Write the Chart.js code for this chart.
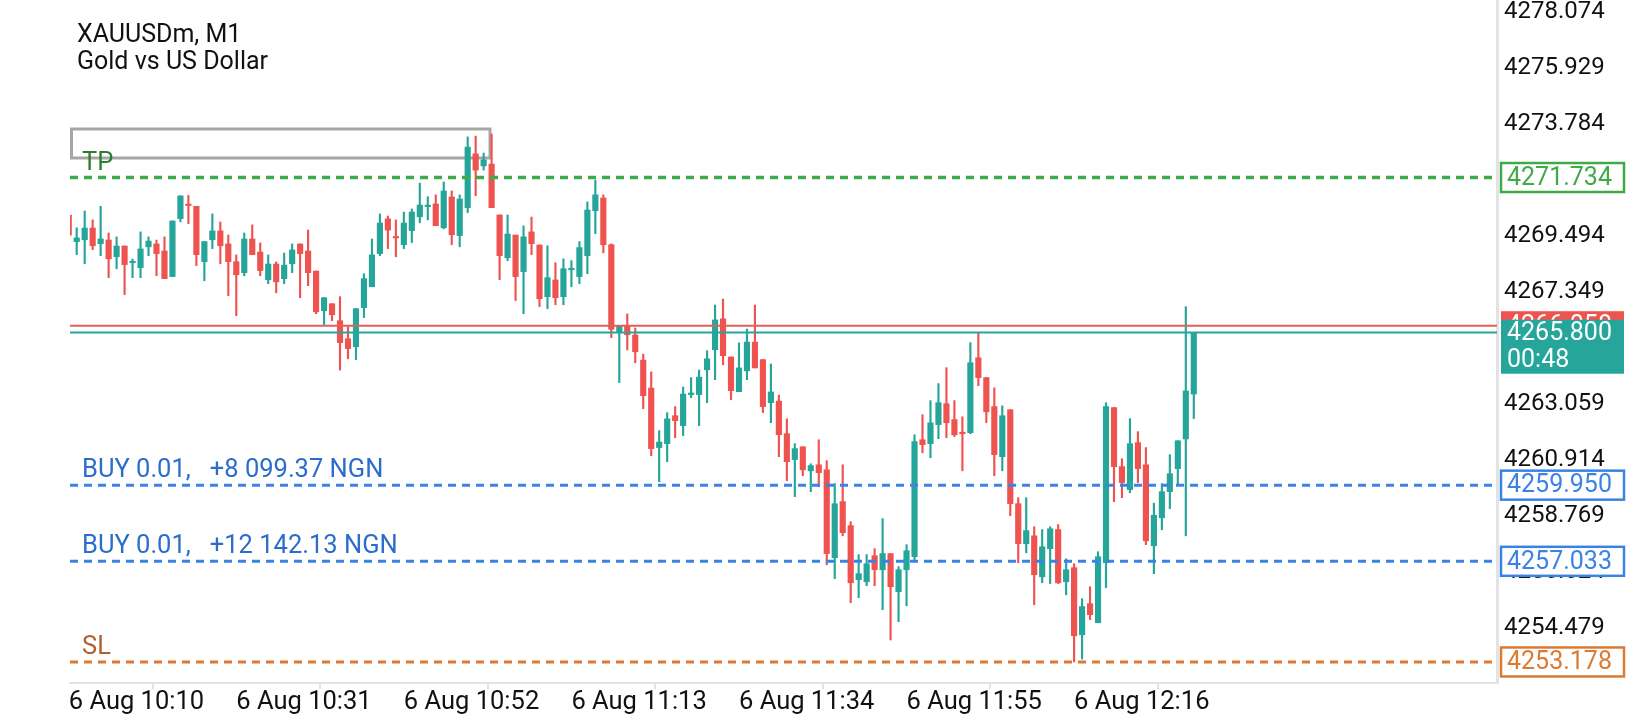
<!doctype html>
<html lang="en">
<head>
<meta charset="utf-8">
<title>XAUUSDm, M1</title>
<script src="https://cdn.jsdelivr.net/npm/chart.js"></script>
<style>
  html, body { margin: 0; padding: 0; background: #fff; }
  #wrap { position: relative; width: 1640px; height: 720px; }
</style>
</head>
<body>
<div id="wrap"><canvas id="chart"></canvas></div>
<script>
  //--------------------------------- data ---------------------------------
  const symbolTitle = 'XAUUSDm, M1'
  const symbolName = 'Gold vs US Dollar'

  // one candle per minute, index 0 = 6 Aug 10:10
  const timeTicks = [0, 21, 42, 63, 84, 105, 126]
  const timeLabels = ['6 Aug 10:10', '6 Aug 10:31', '6 Aug 10:52', '6 Aug 11:13', '6 Aug 11:34', '6 Aug 11:55', '6 Aug 12:16']

  const priceTicks = [4278.074, 4275.929, 4273.784, 4271.639, 4269.494, 4267.349, 4265.204,
    4263.059, 4260.914, 4258.769, 4256.624, 4254.479]

  const opens = [
    4270.30, 4269.28, 4269.35, 4269.80, 4269.20, 4269.34, 4268.70, 4269.11, 4268.47, 4268.28,
    4269.08, 4269.19, 4268.92, 4267.94, 4270.16, 4270.71, 4270.63, 4268.51, 4269.35, 4269.69,
    4269.19, 4268.51, 4268.09, 4269.38, 4268.88, 4267.82, 4268.42, 4267.86, 4268.43, 4269.19,
    4268.92, 4268.15, 4266.63, 4266.90, 4266.25, 4265.56, 4265.25, 4266.75, 4267.55, 4268.82,
    4270.15, 4269.46, 4269.16, 4269.70, 4270.23, 4270.62, 4270.72, 4269.81, 4270.99, 4269.51,
    4270.58, 4272.64, 4272.18, 4272.25, 4270.30, 4268.66, 4269.53, 4268.13, 4269.65, 4269.15,
    4267.17, 4267.81, 4267.17, 4268.20, 4267.94, 4268.74, 4270.46, 4270.95, 4269.16, 4265.79,
    4266.05, 4265.70, 4264.74, 4263.67, 4261.39, 4261.54, 4262.61, 4262.23, 4263.42, 4263.42,
    4264.37, 4265.14, 4266.32, 4264.86, 4263.53, 4264.33, 4265.43, 4264.76, 4263.11, 4263.17,
    4261.92, 4260.93, 4261.42, 4260.50, 4260.73, 4260.54, 4257.17, 4259.32, 4258.40, 4256.33,
    4256.25, 4257.25, 4256.71, 4257.33, 4255.87, 4256.71, 4257.21, 4261.69, 4261.54, 4262.27,
    4263.07, 4262.46, 4261.96, 4261.96, 4264.83, 4264.07, 4262.96, 4261.04, 4262.84, 4259.24,
    4257.71, 4258.01, 4256.44, 4257.52, 4258.25, 4256.25, 4256.79, 4254.22, 4255.41, 4254.68,
    4256.98, 4262.92, 4260.66, 4259.78, 4261.58, 4260.73, 4257.63, 4258.70, 4259.70, 4260.58,
    4261.72, 4263.44
  ]
  const highs = [
    4270.57, 4269.81, 4270.45, 4270.11, 4270.63, 4269.61, 4269.46, 4269.11, 4268.61, 4269.65,
    4269.46, 4269.34, 4269.46, 4270.07, 4271.03, 4271.05, 4270.63, 4269.28, 4270.34, 4270.03,
    4269.53, 4268.77, 4269.61, 4269.92, 4269.23, 4268.77, 4268.50, 4268.84, 4269.19, 4269.19,
    4269.72, 4268.15, 4267.13, 4266.90, 4267.17, 4266.02, 4266.71, 4268.05, 4269.38, 4270.34,
    4270.26, 4270.11, 4270.41, 4270.53, 4271.52, 4271.00, 4271.07, 4271.56, 4271.22, 4271.07,
    4273.29, 4273.32, 4272.67, 4273.40, 4270.30, 4270.30, 4269.53, 4269.88, 4270.22, 4269.15,
    4269.12, 4268.47, 4268.62, 4268.55, 4269.28, 4270.80, 4271.64, 4271.07, 4269.19, 4266.05,
    4266.51, 4265.97, 4264.97, 4264.29, 4262.04, 4262.73, 4262.96, 4263.71, 4264.07, 4264.36,
    4265.10, 4266.85, 4267.08, 4264.86, 4265.40, 4265.93, 4266.85, 4264.76, 4264.59, 4263.40,
    4262.49, 4261.54, 4261.42, 4260.77, 4261.69, 4260.89, 4260.01, 4260.73, 4258.55, 4257.29,
    4257.29, 4257.52, 4258.67, 4257.33, 4256.83, 4257.67, 4261.88, 4262.65, 4263.19, 4263.84,
    4264.45, 4263.19, 4262.57, 4265.41, 4265.79, 4264.07, 4263.68, 4262.99, 4262.84, 4259.47,
    4259.47, 4258.36, 4258.25, 4258.36, 4258.44, 4257.13, 4256.94, 4255.60, 4256.06, 4257.40,
    4263.11, 4262.92, 4260.96, 4262.50, 4262.00, 4261.39, 4259.26, 4260.01, 4261.12, 4261.65,
    4266.79, 4265.80
  ]
  const lows = [
    4269.26, 4268.78, 4268.43, 4268.97, 4268.74, 4267.90, 4268.24, 4267.25, 4267.90, 4267.90,
    4268.74, 4267.97, 4267.86, 4267.94, 4270.04, 4269.97, 4268.36, 4267.78, 4269.01, 4268.43,
    4267.21, 4266.44, 4267.97, 4268.78, 4267.97, 4267.67, 4267.32, 4267.67, 4268.09, 4267.13,
    4267.59, 4266.52, 4266.10, 4266.25, 4264.36, 4264.79, 4264.76, 4266.37, 4267.55, 4268.74,
    4269.01, 4268.70, 4269.01, 4269.24, 4270.00, 4270.11, 4269.89, 4269.77, 4269.16, 4269.08,
    4270.39, 4271.04, 4272.02, 4270.58, 4267.82, 4268.55, 4267.02, 4266.52, 4268.78, 4266.79,
    4266.71, 4266.86, 4266.86, 4267.55, 4267.67, 4268.05, 4269.58, 4268.85, 4265.60, 4263.88,
    4265.13, 4264.64, 4262.88, 4261.08, 4260.08, 4260.85, 4261.77, 4261.85, 4263.30, 4262.23,
    4263.11, 4263.99, 4264.56, 4263.22, 4263.53, 4263.99, 4264.44, 4262.73, 4262.34, 4261.04,
    4260.12, 4259.51, 4260.31, 4259.70, 4259.89, 4256.90, 4256.37, 4258.01, 4255.45, 4255.64,
    4256.10, 4256.10, 4255.18, 4254.02, 4254.72, 4255.33, 4257.10, 4261.19, 4261.00, 4261.73,
    4261.77, 4261.81, 4260.50, 4261.92, 4263.76, 4262.34, 4260.31, 4260.50, 4258.78, 4256.98,
    4257.36, 4255.37, 4256.21, 4256.18, 4256.18, 4255.75, 4253.18, 4253.29, 4254.80, 4254.68,
    4256.02, 4259.32, 4259.47, 4259.66, 4260.05, 4257.67, 4256.56, 4258.24, 4259.05, 4259.93,
    4258.01, 4262.50
  ]
  const closes = [
    4269.53, 4269.42, 4269.80, 4269.12, 4269.38, 4268.62, 4269.11, 4268.40, 4268.51, 4269.00,
    4269.30, 4268.82, 4267.86, 4270.07, 4271.03, 4270.66, 4268.78, 4269.28, 4269.69, 4269.12,
    4268.51, 4268.01, 4269.38, 4268.78, 4268.17, 4268.42, 4267.74, 4268.38, 4268.96, 4268.82,
    4268.09, 4266.59, 4267.13, 4266.48, 4265.41, 4265.18, 4266.71, 4267.86, 4268.77, 4269.99,
    4269.72, 4269.42, 4269.99, 4270.41, 4270.68, 4270.64, 4269.89, 4271.22, 4269.54, 4270.91,
    4272.90, 4272.02, 4272.41, 4270.58, 4268.74, 4269.57, 4267.94, 4269.46, 4269.20, 4267.09,
    4267.90, 4267.13, 4268.24, 4268.23, 4269.05, 4270.49, 4271.07, 4269.16, 4265.92, 4266.05,
    4265.71, 4265.06, 4263.38, 4261.35, 4261.60, 4262.49, 4262.42, 4263.44, 4263.48, 4264.09,
    4264.79, 4266.28, 4264.91, 4263.57, 4264.44, 4265.43, 4264.44, 4262.96, 4263.52, 4261.88,
    4260.85, 4261.35, 4260.54, 4260.70, 4260.43, 4257.33, 4259.24, 4258.13, 4256.21, 4256.56,
    4256.94, 4256.71, 4257.33, 4256.06, 4256.71, 4257.44, 4261.62, 4261.50, 4262.34, 4263.11,
    4262.34, 4261.88, 4261.92, 4264.64, 4264.07, 4262.76, 4261.12, 4262.61, 4259.24, 4257.71,
    4258.21, 4256.52, 4257.59, 4258.28, 4256.21, 4256.71, 4254.18, 4255.30, 4254.99, 4257.21,
    4262.96, 4260.66, 4260.05, 4261.54, 4260.58, 4257.82, 4258.80, 4259.70, 4260.39, 4261.65,
    4263.56, 4265.80
  ]

  const tpPrice = 4271.734
  const slPrice = 4253.178
  const buyPrices = [4259.950, 4257.033]
  const buyLabels = ['BUY 0.01,   +8 099.37 NGN', 'BUY 0.01,   +12 142.13 NGN']
  const bidPrice = 4265.800
  const askPrice = 4266.058
  const barTimer = '00:48'
  // rectangle object: from/to in candle index, top/bottom in price
  const rectFrom = 0.16, rectTo = 52.8, rectTop = 4273.593, rectBottom = 4272.482

  //--------------------------------- colours ---------------------------------
  const bull = '#26a69a'
  const bear = '#ef5350'
  const tpColor = '#3faa48', tpText = '#2e7d32'
  const buyColor = '#3b82e6', buyText = '#2a6dcc'
  const slColor = '#dc7a30', slText = '#b2602e'
  const axisGrey = '#e3e3e3'

  const candleColors = closes.map((c, i) => c >= opens[i] ? bull : bear)
  const wickData = highs.map((h, i) => ({ x: i, y: [lows[i], h] }))
  const bodyData = closes.map((c, i) => ({ x: i, y: [opens[i], c] }))

  Chart.defaults.font.family = 'Roboto'

  const hline = (ctx, area, y, color, width, dash) => {
    ctx.save()
    ctx.strokeStyle = color
    ctx.lineWidth = width
    ctx.setLineDash(dash)
    ctx.beginPath()
    ctx.moveTo(area.left, y)
    ctx.lineTo(area.right, y)
    ctx.stroke()
    ctx.restore()
  }

  const priceBox = (ctx, y, text, color) => {
    ctx.save()
    ctx.fillStyle = '#fff'
    ctx.fillRect(1501, y - 14.5, 123, 29)
    ctx.strokeStyle = color
    ctx.lineWidth = 2.5
    ctx.strokeRect(1501, y - 14.5, 123, 29)
    ctx.fillStyle = color
    ctx.font = '25px Roboto'
    ctx.textBaseline = 'middle'
    ctx.fillText(text, 1507, y + 1)
    ctx.restore()
  }

  const overlay = {
    id: 'overlay',
    beforeDatasetsDraw(chart) {
      const { ctx, chartArea, scales: { x, y } } = chart
      ctx.save()
      ctx.beginPath()
      ctx.rect(chartArea.left, chartArea.top, chartArea.right - chartArea.left, chartArea.bottom - chartArea.top)
      ctx.clip()
      ctx.strokeStyle = '#a6a6a6'
      ctx.lineWidth = 3
      const x0 = x.getPixelForValue(rectFrom) + 1.5, x1 = x.getPixelForValue(rectTo)
      const y0 = y.getPixelForValue(rectTop), y1 = y.getPixelForValue(rectBottom)
      ctx.strokeRect(x0, y0, x1 - x0, y1 - y0)
      ctx.restore()
    },
    afterDatasetsDraw(chart) {
      const { ctx, chartArea, scales: { y } } = chart
      hline(ctx, chartArea, y.getPixelForValue(askPrice), '#e0605a', 2, [])
      hline(ctx, chartArea, y.getPixelForValue(bidPrice), bull, 2, [])
      hline(ctx, chartArea, y.getPixelForValue(tpPrice), tpColor, 3.5, [8, 6])
      buyPrices.forEach(p => hline(ctx, chartArea, y.getPixelForValue(p), buyColor, 3, [8, 6]))
      hline(ctx, chartArea, y.getPixelForValue(slPrice), slColor, 3, [8, 6])

      ctx.save()
      ctx.font = '25.5px Roboto'
      ctx.textBaseline = 'alphabetic'
      ctx.fillStyle = tpText
      ctx.fillText('TP', 82, y.getPixelForValue(tpPrice) - 8)
      ctx.fillStyle = buyText
      buyPrices.forEach((p, i) => ctx.fillText(buyLabels[i], 82, y.getPixelForValue(p) - 8))
      ctx.fillStyle = slText
      ctx.fillText('SL', 82, y.getPixelForValue(slPrice) - 8)
      ctx.restore()
    },
    afterDraw(chart) {
      const { ctx, scales: { y } } = chart
      // title
      ctx.save()
      ctx.fillStyle = '#111'
      ctx.font = '25px Roboto'
      ctx.fillText(symbolTitle, 77, 42)
      ctx.fillText(symbolName, 77, 69)
      ctx.restore()

      priceBox(ctx, y.getPixelForValue(tpPrice), tpPrice.toFixed(3), tpColor)
      buyPrices.forEach(p => priceBox(ctx, y.getPixelForValue(p), p.toFixed(3), buyColor))
      priceBox(ctx, y.getPixelForValue(slPrice), slPrice.toFixed(3), slColor)

      // ask box, partly hidden by the bid box
      const ya = y.getPixelForValue(askPrice)
      const yb = y.getPixelForValue(bidPrice)
      ctx.save()
      ctx.fillStyle = bear
      ctx.fillRect(1501, ya - 14.5, 123, 29)
      ctx.fillStyle = '#fff'
      ctx.font = '25px Roboto'
      ctx.textBaseline = 'middle'
      ctx.fillText(askPrice.toFixed(3), 1507, ya + 1)
      ctx.fillStyle = bull
      ctx.fillRect(1501, yb - 12.7, 123, 54)
      ctx.fillStyle = '#fff'
      ctx.fillText(bidPrice.toFixed(3), 1507, yb + 1)
      ctx.fillText(barTimer, 1507, yb + 28)
      ctx.restore()
    }
  }

  new Chart(document.getElementById('chart'), {
    type: 'bar',
    data: {
      datasets: [{
        label: 'wick',
        data: wickData,
        backgroundColor: candleColors,
        barThickness: 1.5,
        grouped: false,
        borderWidth: 0
      }, {
        label: 'body',
        data: bodyData,
        backgroundColor: candleColors,
        barThickness: 5.5,
        minBarLength: 1.5,
        grouped: false,
        borderWidth: 0
      }]
    },
    options: {
      responsive: true,
      maintainAspectRatio: false,
      animation: false,
      layout: { padding: { left: 70, top: 0, right: 0, bottom: 0 } },
      plugins: { legend: { display: false }, tooltip: { enabled: false } },
      scales: {
        x: {
          type: 'linear',
          offset: false,
          min: 0.16,
          max: 179,
          afterBuildTicks: scale => { scale.ticks = timeTicks.map(v => ({ value: v })) },
          afterFit: scale => { scale.height = 37; scale.paddingLeft = 0; scale.paddingRight = 0 },
          ticks: {
            align: 'start',
            padding: -2,
            maxRotation: 0,
            autoSkip: false,
            color: '#111',
            font: { size: 25.5 },
            callback: v => timeLabels[timeTicks.indexOf(v)] ?? ''
          },
          grid: { display: true, drawOnChartArea: false, drawTicks: true, tickLength: 6, color: axisGrey, lineWidth: 2 },
          border: { display: true, color: axisGrey, width: 2 }
        },
        y: {
          position: 'right',
          min: 4252.372,
          max: 4278.534,
          afterBuildTicks: scale => { scale.ticks = priceTicks.map(v => ({ value: v })) },
          afterFit: scale => { scale.width = 143; scale.paddingTop = 0; scale.paddingBottom = 0 },
          ticks: {
            padding: 7,
            color: '#111',
            font: { size: 24 },
            callback: v => v.toFixed(3)
          },
          grid: { display: false, drawTicks: false },
          border: { display: true, color: axisGrey, width: 3 }
        }
      }
    },
    plugins: [overlay]
  })
</script>
</body>
</html>
